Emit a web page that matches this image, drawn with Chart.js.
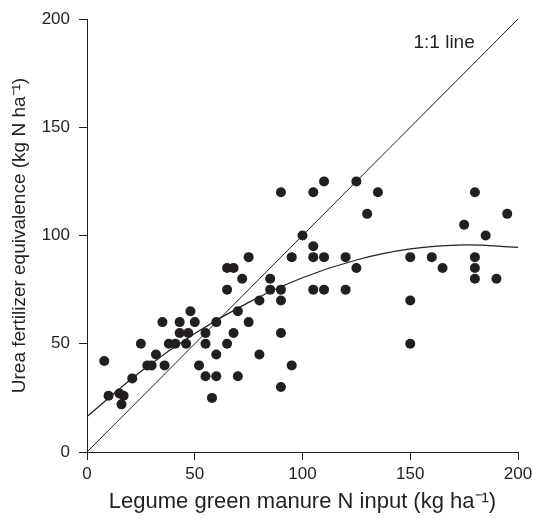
<!DOCTYPE html>
<html>
<head>
<meta charset="utf-8">
<script src="https://cdn.jsdelivr.net/npm/chart.js@4"></script>
<style>
  html, body { margin: 0; padding: 0; background: #fff; }
  #wrap { width: 533px; height: 519px; }
</style>
</head>
<body>
<div id="wrap"><canvas id="chart"></canvas></div>
<script>
// observed points (legume N input, urea fertilizer equivalence)
const inputN = [8, 10, 15, 17, 16, 21, 25, 28, 30, 32, 35, 36, 38, 41, 43, 43, 47, 46, 48, 50,
  52, 55, 55, 55, 60, 60, 60, 58, 65, 68, 65, 65, 68, 70, 70, 72, 75, 75, 80, 80,
  85, 85, 90, 90, 90, 90, 95, 90, 95, 100, 105, 110, 105, 105, 110, 105, 110, 120, 120, 125,
  125, 130, 135, 150, 160, 165, 150, 150, 175, 180, 180, 180, 180, 185, 190, 195];
const ureaEq = [42, 26, 27, 26, 22, 34, 50, 40, 40, 45, 60, 40, 50, 50, 60, 55, 55, 50, 65, 60,
  40, 55, 50, 35, 60, 45, 35, 25, 85, 85, 75, 50, 55, 65, 35, 80, 90, 60, 45, 70,
  80, 75, 75, 70, 55, 30, 40, 120, 90, 100, 120, 125, 95, 90, 90, 75, 75, 90, 75, 85,
  125, 110, 120, 90, 90, 85, 70, 50, 105, 120, 90, 85, 80, 100, 80, 110];

// fitted curve
const curveX = [0, 25, 50, 75, 100, 125, 150, 175, 200];
const curveY = [16.4, 37.2, 54.7, 69.1, 80.5, 88.7, 93.8, 95.7, 94.5];

// 1:1 reference line
const oneToOneX = [0, 200];
const oneToOneY = [0, 200];

const tickValues = [0, 50, 100, 150, 200];
const lineLabel = '1:1 line';
const lineLabelAt = { x: 151.5, y: 189 };

const ink = '#231f20';
const font = "'Liberation Sans', Arial, sans-serif";

const pts = inputN.map((x, i) => ({ x: x, y: ureaEq[i] }));
const curve = curveX.map((x, i) => ({ x: x, y: curveY[i] }));
const diag = oneToOneX.map((x, i) => ({ x: x, y: oneToOneY[i] }));

const labelPlugin = {
  id: 'lineLabel',
  afterDatasetsDraw(chart) {
    const { ctx, scales } = chart;
    ctx.save();
    ctx.fillStyle = ink;
    ctx.font = '19px ' + font;
    ctx.textAlign = 'left';
    ctx.textBaseline = 'middle';
    ctx.fillText(lineLabel, scales.x.getPixelForValue(lineLabelAt.x), scales.y.getPixelForValue(lineLabelAt.y));
    ctx.restore();
  }
};

Chart.defaults.font.family = font;
Chart.defaults.color = ink;

new Chart(document.getElementById('chart'), {
  type: 'scatter',
  data: {
    datasets: [
      { data: diag, showLine: true, borderColor: ink, borderWidth: 1, pointRadius: 0, fill: false },
      { data: curve, showLine: true, borderColor: ink, borderWidth: 1.2, pointRadius: 0, tension: 0.4, fill: false },
      { data: pts, backgroundColor: ink, borderColor: ink, pointRadius: 5, borderWidth: 0 }
    ]
  },
  options: {
    responsive: true, maintainAspectRatio: false, animation: false,
    layout: { padding: { top: 19, right: 15, left: 0, bottom: 0 } },
    plugins: { legend: { display: false }, tooltip: { enabled: false } },
    scales: {
      x: {
        type: 'linear', min: 0, max: 200,
        afterBuildTicks: (s) => { s.ticks = tickValues.map(v => ({ value: v })); },
        afterFit: (s) => { s.height = 67; s.paddingLeft = 0; s.paddingRight = 0; },
        grid: { drawOnChartArea: false, drawTicks: true, tickLength: 8, color: ink, tickWidth: 1 },
        border: { color: ink, width: 1 },
        ticks: { font: { size: 17 }, padding: 4, color: ink },
        title: { display: true, text: 'Legume green manure N input (kg ha⁻¹)', font: { size: 22 }, color: ink, padding: { top: 2 } }
      },
      y: {
        type: 'linear', min: 0, max: 200,
        afterBuildTicks: (s) => { s.ticks = tickValues.map(v => ({ value: v })); },
        afterFit: (s) => { s.width = 87; s.paddingTop = 0; s.paddingBottom = 0; },
        grid: { drawOnChartArea: false, drawTicks: true, tickLength: 8, color: ink, tickWidth: 1 },
        border: { color: ink, width: 1 },
        ticks: { font: { size: 17 }, padding: 9, color: ink },
        title: { display: true, text: 'Urea fertilizer equivalence (kg N ha⁻¹)', font: { size: 19 }, color: ink, padding: { top: 8, bottom: 4 } }
      }
    }
  },
  plugins: [labelPlugin]
});
</script>
</body>
</html>
